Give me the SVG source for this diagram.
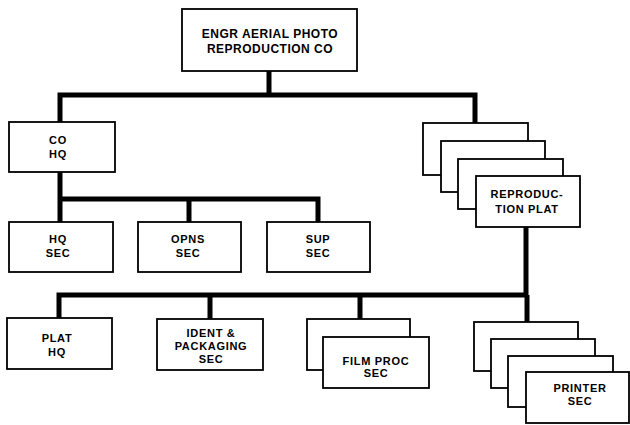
<svg xmlns="http://www.w3.org/2000/svg" width="630" height="425" viewBox="0 0 630 425">
<style>
.box{fill:#fff;stroke:#000;stroke-width:1.8}
.lbl{font-family:"Liberation Sans",Arial,sans-serif;font-weight:bold;font-size:11px;letter-spacing:0.7px;text-anchor:middle;fill:#000}
.ttl{font-size:12px;letter-spacing:0.5px}
.conn{fill:none;stroke:#000;stroke-width:5;stroke-linejoin:miter;stroke-linecap:butt}
</style>
<rect width="630" height="425" fill="#fff"/>
<g id="connectors">
<path class="conn" d="M269,71 V95"/>
<path class="conn" d="M60,123 V95 H475 V124"/>
<path class="conn" d="M60,172 V222"/>
<path class="conn" d="M60,199 H318 V222"/>
<path class="conn" d="M189,199 V222"/>
<path class="conn" d="M526,227 V295"/>
<path class="conn" d="M59,319 V295 H528"/>
<path class="conn" d="M210,295 V320"/>
<path class="conn" d="M360,295 V320"/>
<path class="conn" d="M527,295 V323"/>
</g>
<g id="co">
<rect class="box" x="182" y="9" width="175" height="62"/>
<text class="lbl ttl" x="270" y="38">ENGR AERIAL PHOTO</text>
<text class="lbl ttl" x="270" y="53">REPRODUCTION CO</text>
</g>
<g id="cohq">
<rect class="box" x="9" y="122" width="106" height="50"/>
<text class="lbl" x="58" y="144">CO</text>
<text class="lbl" x="58" y="158">HQ</text>
</g>
<g id="hqsec">
<rect class="box" x="9" y="222" width="104" height="50"/>
<text class="lbl" x="58" y="243">HQ</text>
<text class="lbl" x="58" y="257">SEC</text>
</g>
<g id="opnssec">
<rect class="box" x="138" y="222" width="103" height="50"/>
<text class="lbl" x="188" y="243">OPNS</text>
<text class="lbl" x="188" y="257">SEC</text>
</g>
<g id="supsec">
<rect class="box" x="267" y="222" width="103" height="50"/>
<text class="lbl" x="318" y="243">SUP</text>
<text class="lbl" x="318" y="257">SEC</text>
</g>
<g id="reproplat">
<rect class="box" x="423" y="123" width="105" height="52"/>
<rect class="box" x="441" y="141" width="104" height="51"/>
<rect class="box" x="458" y="159" width="105" height="50"/>
<rect class="box" x="476" y="176" width="104" height="51"/>
<text class="lbl" x="527" y="198" font-weight="normal" letter-spacing="1">REPRODUC-</text>
<text class="lbl" x="527" y="213" font-weight="normal" letter-spacing="1">TION  PLAT</text>
</g>
<g id="plathq">
<rect class="box" x="7" y="318" width="105" height="51"/>
<text class="lbl" x="57" y="342">PLAT</text>
<text class="lbl" x="57" y="356">HQ</text>
</g>
<g id="identsec">
<rect class="box" x="157" y="319" width="106" height="51"/>
<text class="lbl" x="211" y="337">IDENT &amp;</text>
<text class="lbl" x="211" y="350">PACKAGING</text>
<text class="lbl" x="211" y="363">SEC</text>
</g>
<g id="filmproc">
<rect class="box" x="307" y="319" width="103" height="51"/>
<rect class="box" x="323" y="337" width="106" height="51"/>
<text class="lbl" x="376" y="365">FILM  PROC</text>
<text class="lbl" x="376" y="377">SEC</text>
</g>
<g id="printer">
<rect class="box" x="474" y="322" width="104" height="49"/>
<rect class="box" x="491" y="339" width="104" height="49"/>
<rect class="box" x="508" y="356" width="105" height="51"/>
<rect class="box" x="526" y="372" width="103" height="51"/>
<text class="lbl" x="580" y="392">PRINTER</text>
<text class="lbl" x="580" y="405">SEC</text>
</g>
</svg>
